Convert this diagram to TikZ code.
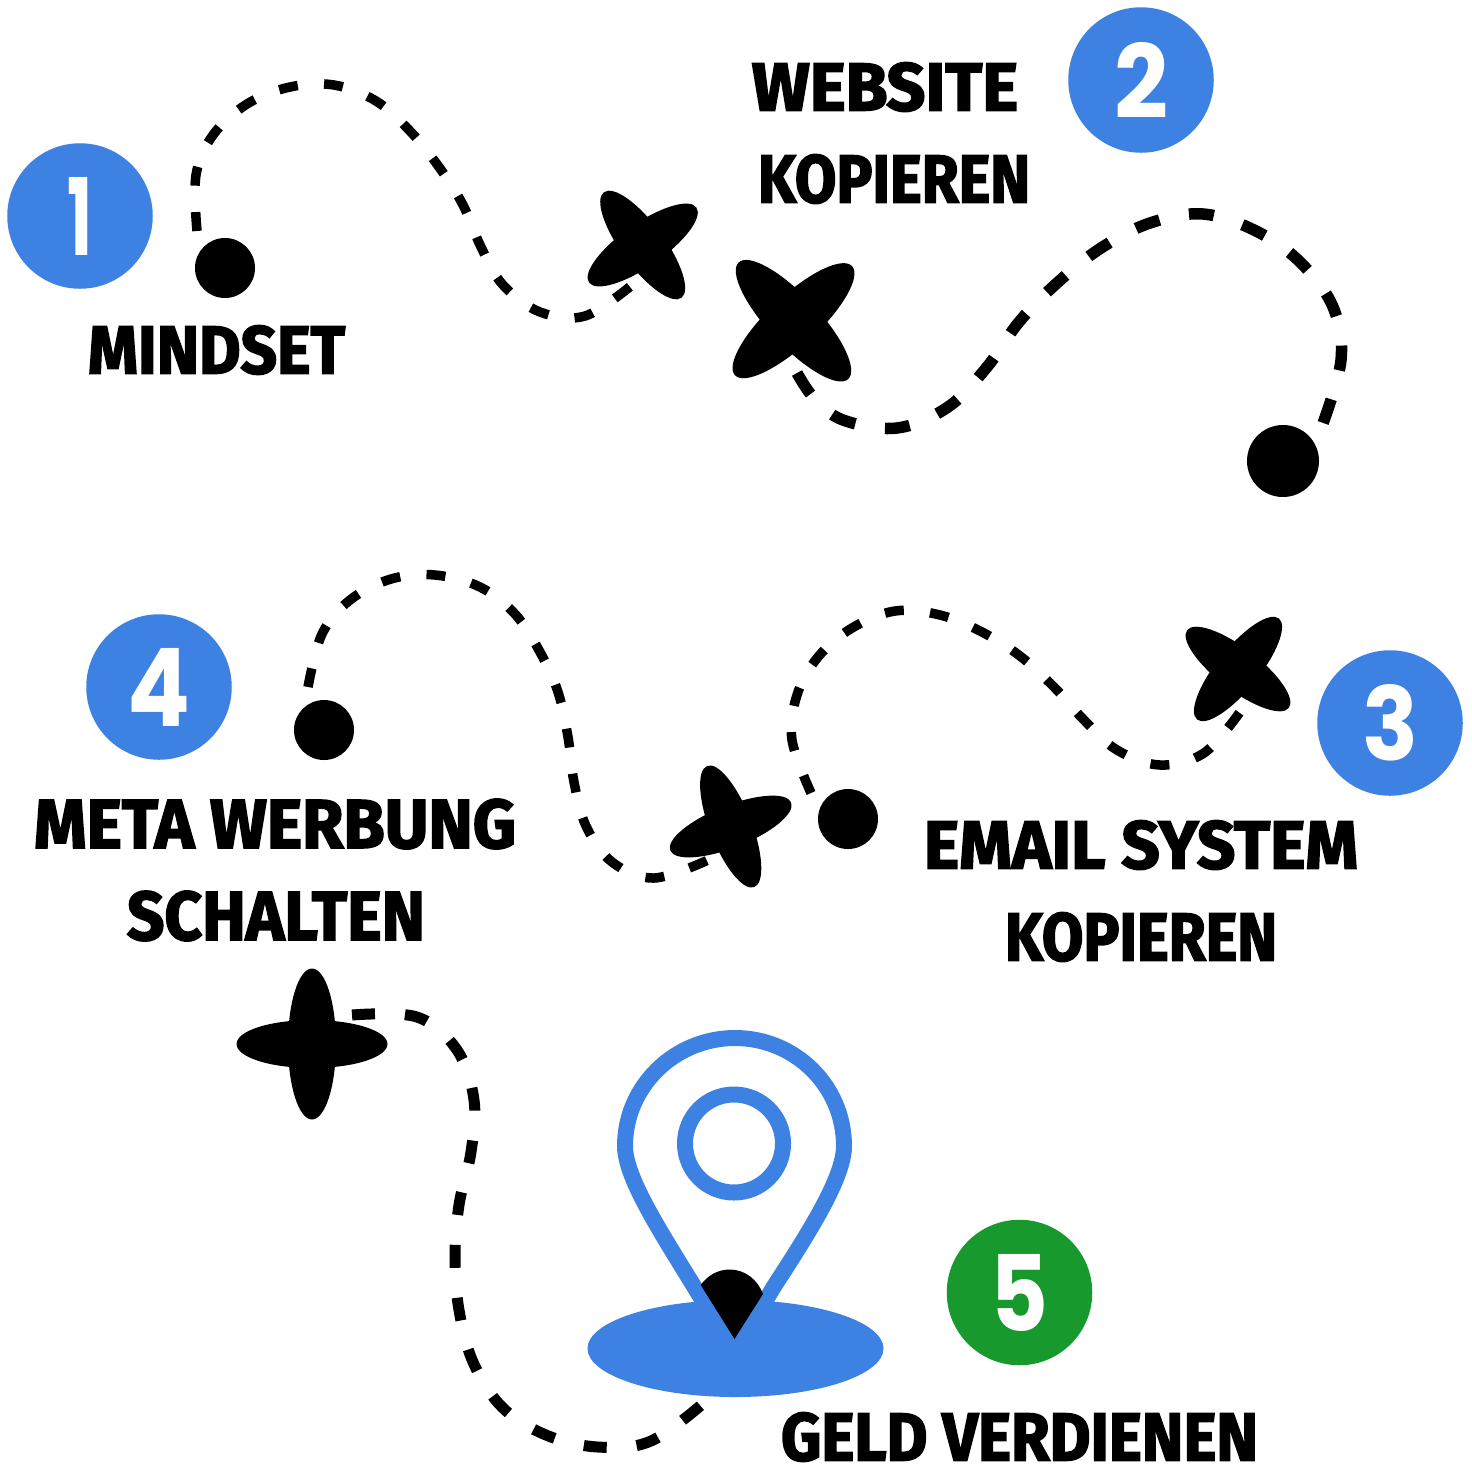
\documentclass[tikz,border=0pt]{standalone}
\usepackage{graphicx}
\usepackage{fontspec}
\newfontfamily\labelfont[BoldFeatures={FakeBold=2.5}]{Fira Sans}
\newfontfamily\digitfont{Poppins}
\definecolor{pinblue}{HTML}{3D82E3}
\definecolor{goalgreen}{HTML}{18992E}
\newcommand{\fitbox}[3]{\resizebox{#1pt}{#2pt}{#3}}
\newcommand{\crossmark}[8]{%
  \fill[black,shift={(#1,#2)}] [rotate=-#3] (0,0) ellipse [x radius=#4, y radius=#5];
  \fill[black,shift={(#1,#2)}] [rotate=-#6] (0,0) ellipse [x radius=#7, y radius=#8];
}
\tikzset{
  numdisc/.style={circle,minimum size=145.5pt,inner sep=0pt,text=white,font=\digitfont\bfseries},
  bluedisc/.style={numdisc,fill=pinblue},
  greendisc/.style={numdisc,fill=goalgreen},
  dotmark/.style={circle,fill=black,inner sep=0pt},
  caption/.style={inner sep=0pt,font=\labelfont\bfseries},
  trailsmall/.style={draw=black,line width=9.5pt,dash pattern=on 19pt off 26.4pt,line cap=butt},
  trailwide/.style={draw=black,line width=11pt,dash pattern=on 23pt off 30pt,line cap=butt},
  trailbig/.style={draw=black,line width=11.5pt,dash pattern=on 25pt off 30pt,line cap=butt}
}
\begin{document}
\begin{tikzpicture}[x=1pt,y=-1pt]
\useasboundingbox (0,0) rectangle (1472,1468);
\fill[white] (0,0) rectangle (1472,1468);

% trails
\coordinate (t1a) at (197,231);  \coordinate (t1b) at (632,285);
\coordinate (t2a) at (797,373);  \coordinate (t2b) at (1322,426);
\coordinate (t3a) at (811,793);  \coordinate (t3b) at (1240,712);
\coordinate (t4a) at (308,687);  \coordinate (t4b) at (708,860);
\coordinate (t5a) at (352,1015); \coordinate (t5b) at (706,1401);

\draw[trailsmall] plot[smooth,tension=.6] coordinates {(t1a) (196,175) (213,135) (247,104) (290,87) (334,85) (376,101) (410,131) (439,167) (463,205) (481,247) (503,285) (540,312) (585,316) (t1b)};
\draw[trailbig] plot[smooth,tension=.6] coordinates {(t2a) (814,398) (843,420) (897,428) (948,407) (987,367) (1019,322) (1057,283) (1101,248) (1150,223) (1203,214) (1256,231) (1300,262) (1333,307) (1341,360) (t2b)};
\draw[trailsmall] plot[smooth,tension=.6] coordinates {(t3a) (792,740) (797,695) (818,657) (852,628) (895,611) (940,615) (982,632) (1020,656) (1054,687) (1084,720) (1117,750) (1160,765) (1204,753) (t3b)};
\draw[trailsmall] plot[smooth,tension=.6] coordinates {(t4a) (322,634) (350,600) (391,579) (435,575) (480,587) (515,614) (540,652) (558,692) (568,737) (574,782) (586,826) (612,862) (654,878) (t4b)};
\draw[trailwide] plot[smooth,tension=.6] coordinates {(t5a) (417,1017) (457,1050) (474,1100) (471,1152) (459,1205) (455,1258) (459,1310) (473,1362) (502,1407) (546,1435) (598,1447) (651,1441) (t5b)};

% cross marks
\crossmark{642.7}{245}{53.7}{65.5}{21.5}{-34.9}{65.5}{21.5}
\crossmark{793.5}{320.7}{46.8}{80}{25}{-43}{80}{25}
\crossmark{1238}{669}{37.4}{64}{21}{-51}{65}{21}
\crossmark{730.7}{826.5}{68.8}{65}{21}{-21.6}{65}{21}
\crossmark{312}{1044}{0}{75.5}{24}{90}{75.5}{24}

% dots
\node[dotmark,minimum size=60pt] (d1) at (225,268) {};
\node[dotmark,minimum size=72pt] (d2) at (1283,461) {};
\node[dotmark,minimum size=60pt] (d3) at (848,819) {};
\node[dotmark,minimum size=60pt] (d4) at (324,730) {};

% numbered discs
\node[bluedisc]  (n1) at (80,216)   {\fitbox{25}{78}{1}};
\node[bluedisc]  (n2) at (1141,80)  {\fitbox{54}{76}{2}};
\node[bluedisc]  (n3) at (1390,723) {\fitbox{56}{76}{3}};
\node[bluedisc]  (n4) at (159,687)  {\fitbox{63}{78}{4}};
\node[greendisc] (n5) at (1019.5,1292.5){\fitbox{58}{77}{5}};

% captions
\node[caption] (c1)  at (216.5,350) {\fitbox{257}{48}{MINDSET}};
\node[caption] (c2a) at (885,87)    {\fitbox{266}{48}{WEBSITE}};
\node[caption] (c2b) at (894,179)   {\fitbox{272}{48}{KOPIEREN}};
\node[caption] (c3a) at (1141,845)  {\fitbox{434}{48}{EMAIL SYSTEM}};
\node[caption] (c3b) at (1141,937)  {\fitbox{272}{48}{KOPIEREN}};
\node[caption] (c4a) at (275,824)   {\fitbox{482}{49}{META WERBUNG}};
\node[caption] (c4b) at (276,916)   {\fitbox{298}{49}{SCHALTEN}};
\node[caption] (c5)  at (1019.5,1437){\fitbox{477}{48}{GELD VERDIENEN}};

% location pin
\fill[pinblue] (735.5,1348.5) ellipse [x radius=148, y radius=48.5];
\draw[pinblue,line width=16pt,line join=miter]
  (735,1353) -- (695,1288)
  .. controls (662,1234) and (625,1178) .. (625,1146)
  .. controls (625,1086) and (675,1038) .. (735,1038)
  .. controls (795,1038) and (844,1086) .. (844,1146)
  .. controls (844,1178) and (808,1234) .. (773,1288)
  -- cycle;
\draw[pinblue,line width=16pt] (734,1143.5) circle [radius=49];
\fill[black] (734.5,1339) -- (700.7,1285)
  .. controls (708,1275) and (718,1269.5) .. (730,1269.5)
  .. controls (745,1269.5) and (758,1280) .. (763,1294) -- cycle;
\end{tikzpicture}
\end{document}
